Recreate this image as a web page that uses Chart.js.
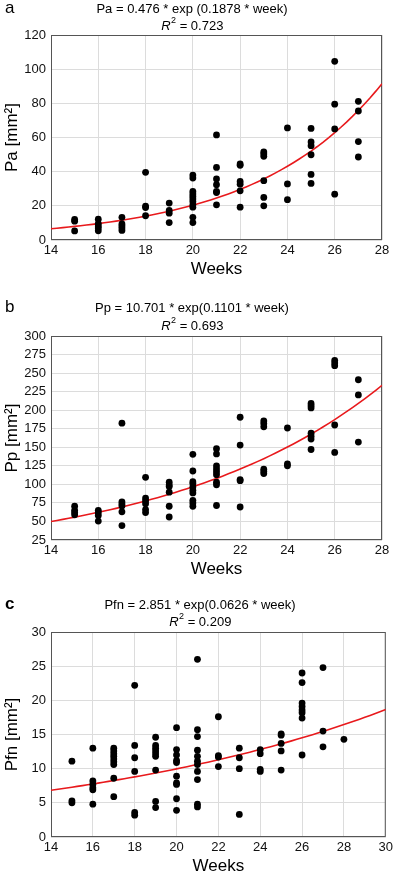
<!DOCTYPE html>
<html>
<head>
<meta charset="utf-8">
<script src="https://cdn.jsdelivr.net/npm/chart.js@4.4.1/dist/chart.umd.min.js"></script>
<style>
  html, body { margin: 0; padding: 0; background: #fff; }
  .panel { position: absolute; left: 0; width: 396px; }
</style>
</head>
<body>
<div class="panel" style="top:0;height:290px"><canvas id="chartA"></canvas></div>
<div class="panel" style="top:290px;height:295px"><canvas id="chartB"></canvas></div>
<div class="panel" style="top:585px;height:290px"><canvas id="chartC"></canvas></div>
<script>
// panel a - Pa
var paWeeks = [15,15,15, 16,16,16,16,16, 17,17,17,17,17, 18,18,18,18, 19,19,19,19,
  20,20,20,20,20,20,20,20,20,20,20, 21,21,21,21,21,21,21, 22,22,22,22,22,22,
  23,23,23,23,23,23, 24,24,24, 25,25,25,25,25,25, 26,26,26,26, 27,27,27,27];
var paValues = [12,11,5.3, 12.2,9.6,8.2,7,5.4, 13.3,9.4,8.2,7,5.6, 39.6,19.8,19,14.2, 21.6,17.3,15.7,10.2,
  38,36.3,28.4,27,25.5,24,22.5,20.6,19.2,13.3,10.2, 61.5,42.5,35.7,32.4,28.4,27.8,20.6, 44.5,43.7,34.3,32.7,28.8,19.2,
  51.5,50.4,49,34.7,24.9,20, 65.6,32.8,23.6, 65.3,57.4,55.2,49.9,38.4,33.1, 104.6,79.5,65,26.8, 81.2,75.5,57.6,48.6];
var paFit = [0.476, 0.1878];

// panel b - Pp
var ppWeeks = [15,15,15,15, 16,16,16,16, 17,17,17,17,17,17, 18,18,18,18,18,18, 19,19,19,19,19,19,
  20,20,20,20,20,20,20,20,20,20, 21,21,21,21,21,21,21,21,21, 22,22,22,22,22,
  23,23,23,23,23,23, 24,24,24, 25,25,25,25,25,25,25, 26,26,26,26,26, 27,27,27];
var ppValues = [70.5,65,62,59, 65,62,58,50.5, 182.5,76.5,73.5,71,63,44.5, 109.5,81.5,78,74,66,62, 103,99,97,89.5,70.5,56,
  140.5,118,103.5,101,96.5,92,88.5,78.5,75,70.5, 148,141,125,121,117,113,103,99.5,71.5, 190.5,153,106.5,105,69.5,
  185.5,182,177.5,120.5,117.5,114.5, 176,127.5,125, 209,206,203,169,165,161,147, 267,263.5,260,180,143, 241,220.5,157];
var ppFit = [10.701, 0.1101];

// panel c - Pfn
var pfnWeeks = [15,15,15, 16,16,16,16,16,16, 17,17,17,17,17,17,17,17,17, 18,18,18,18,18,18,
  19,19,19,19,19,19,19,19,19, 20,20,20,20,20,20,20,20,20,20, 21,21,21,21,21,21,21,21,21,21,21,
  22,22,22,22, 23,23,23,23, 24,24,24,24, 25,25,25,25,25, 26,26,26,26,26,26,26,26, 27,27,27, 28];
var pfnValues = [11.1,5.3,5.0, 13,8.2,7.7,7.2,6.9,4.8, 13,12.6,12.2,11.8,11.4,11.0,10.6,8.6,5.9, 22.2,13.4,11.6,9.6,3.6,3.2,
  14.6,13.4,13.0,12.6,12.2,11.8,9.8,5.2,4.3, 16,12.8,12,11.2,10.9,8.9,7.9,7.7,5.6,3.9, 26,15.7,14.7,12.7,11.8,11.1,10.6,9.6,8.4,4.8,4.4,
  17.6,11.9,11.7,10.3, 13,11.6,10,3.3, 12.8,12.2,9.9,9.6, 15.1,14.9,13.7,12.6,9.8, 24,22.6,19.6,19.1,18.6,18.2,17.4,12, 24.8,15.5,13.2, 14.3];
var pfnFit = [2.851, 0.0626];

var FONT = "'Liberation Sans', Arial, sans-serif";

// frame round the plot area
var framePlugin = {
  id: 'frame',
  beforeDatasetsDraw: function (chart) {
    var a = chart.chartArea, ctx = chart.ctx;
    ctx.save();
    ctx.strokeStyle = '#555';
    ctx.lineWidth = 1;
    ctx.strokeRect(a.left + 0.5, a.top + 0.5, a.right - a.left - 1, a.bottom - a.top - 1);
    ctx.restore();
  }
};

// panel letter, equation and R^2 line
var headPlugin = {
  id: 'head',
  afterDraw: function (chart, args, o) {
    var ctx = chart.ctx;
    ctx.save();
    ctx.fillStyle = '#000';
    ctx.textBaseline = 'middle';
    ctx.font = (o.bold ? 'bold ' : '') + '17px ' + FONT;
    ctx.textAlign = 'left';
    ctx.fillText(o.letter, 5, o.y1);

    ctx.font = '13px ' + FONT;
    ctx.textAlign = 'center';
    ctx.fillText(o.eq, o.cx, o.y1 + 1);

    var f1 = 'italic 13px ' + FONT, f2 = '9px ' + FONT, f3 = '13px ' + FONT;
    var rest = ' = ' + o.r2;
    ctx.font = f1; var w1 = ctx.measureText('R').width;
    ctx.font = f2; var w2 = ctx.measureText('2').width;
    ctx.font = f3; var w3 = ctx.measureText(rest).width;
    var x = o.cx - (w1 + w2 + w3) / 2;
    ctx.textAlign = 'left';
    ctx.font = f1; ctx.fillText('R', x, o.y2);
    ctx.font = f2; ctx.fillText('2', x + w1 + 0.5, o.y2 - 5);
    ctx.font = f3; ctx.fillText(rest, x + w1 + w2 + 0.5, o.y2);
    ctx.restore();
  }
};

function makeChart(id, p) {
  var pts = p.weeks.map(function (w, i) { return { x: w, y: p.values[i] }; });
  var curve = [];
  for (var w = p.xMin; w <= p.xMax + 1e-9; w += 0.25) {
    curve.push({ x: w, y: p.fit[0] * Math.exp(p.fit[1] * w) });
  }
  new Chart(document.getElementById(id).getContext('2d'), {
    type: 'scatter',
    data: {
      datasets: [
        {
          data: pts,
          pointRadius: 3.4,
          pointHoverRadius: 3.4,
          backgroundColor: '#000',
          borderWidth: 0
        },
        {
          type: 'line',
          data: curve,
          borderColor: '#e8191c',
          borderWidth: 1.6,
          pointRadius: 0,
          fill: false,
          tension: 0
        }
      ]
    },
    plugins: [framePlugin, headPlugin],
    options: {
      responsive: true,
      maintainAspectRatio: false,
      animation: false,
      events: [],
      layout: { padding: { left: 0, right: p.padRight, top: p.padTop, bottom: p.padBottom } },
      plugins: {
        legend: { display: false },
        tooltip: { enabled: false },
        head: p.head
      },
      scales: {
        x: {
          type: 'linear',
          min: p.xMin,
          max: p.xMax,
          afterFit: function (s) { s.height = 38; },
          ticks: { stepSize: 2, autoSkip: false, maxRotation: 0, color: '#111', padding: 3, font: { family: FONT, size: 13 } },
          grid: { color: '#dcdcdc', drawTicks: false },
          border: { display: false },
          title: {
            display: true,
            text: 'Weeks',
            color: '#000',
            padding: 0,
            font: { family: FONT, size: 17, lineHeight: 1 }
          }
        },
        y: {
          min: p.yMin,
          max: p.yMax,
          afterFit: function (s) { s.width = 51; },
          ticks: { stepSize: p.yStep, autoSkip: false, color: '#111', padding: 5, font: { family: FONT, size: 13 } },
          grid: { color: '#dcdcdc', drawTicks: false },
          border: { display: false },
          title: {
            display: true,
            text: p.yTitle,
            color: '#000',
            padding: { top: 2, bottom: 0 },
            font: { family: FONT, size: 17, lineHeight: 1.2 }
          }
        }
      }
    }
  });
}

makeChart('chartA', {
  weeks: paWeeks, values: paValues, fit: paFit,
  xMin: 14, xMax: 28, yMin: 0, yMax: 120, yStep: 20, yTitle: 'Pa [mm²]',
  padTop: 35, padRight: 14, padBottom: 12,
  head: { letter: 'a', bold: false, eq: 'Pa = 0.476 * exp (0.1878 * week)', r2: '0.723', cx: 192, y1: 8, y2: 26 }
});

makeChart('chartB', {
  weeks: ppWeeks, values: ppValues, fit: ppFit,
  xMin: 14, xMax: 28, yMin: 25, yMax: 300, yStep: 25, yTitle: 'Pp [mm²]',
  padTop: 46, padRight: 14, padBottom: 7,
  head: { letter: 'b', bold: false, eq: 'Pp = 10.701 * exp(0.1101 * week)', r2: '0.693', cx: 192, y1: 17, y2: 36 }
});

makeChart('chartC', {
  weeks: pfnWeeks, values: pfnValues, fit: pfnFit,
  xMin: 14, xMax: 30, yMin: 0, yMax: 30, yStep: 5, yTitle: 'Pfn [mm²]',
  padTop: 47, padRight: 7, padBottom: 0,
  head: { letter: 'c', bold: true, eq: 'Pfn = 2.851 * exp(0.0626 * week)', r2: '0.209', cx: 200, y1: 19, y2: 37 }
});
</script>
</body>
</html>
